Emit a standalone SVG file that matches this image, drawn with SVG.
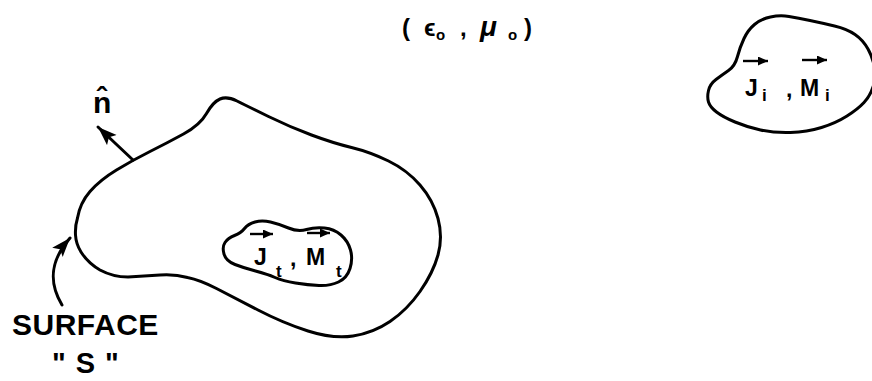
<svg xmlns="http://www.w3.org/2000/svg" width="872" height="381" viewBox="0 0 872 381">
  <style>
    .outline { fill: none; stroke: #000; stroke-width: 3; stroke-linejoin: round; stroke-linecap: round; }
    .shaft { fill: none; stroke: #000; stroke-width: 3; stroke-linecap: round; }
    .vec { fill: none; stroke: #000; stroke-width: 2.4; }
    .lbl { font-family: "Liberation Sans", "DejaVu Sans", sans-serif; fill: #000; }
    .b { font-weight: bold; }
  </style>
  <defs>
    <marker id="bigHead" markerUnits="userSpaceOnUse" markerWidth="24" markerHeight="16" refX="19" refY="7" orient="auto">
      <path d="M0,0 L19,7 L0,14 L4,7 Z" fill="#000"/>
    </marker>
    <marker id="vecHead" markerUnits="userSpaceOnUse" markerWidth="12" markerHeight="10" refX="10" refY="4.5" orient="auto">
      <path d="M0,0 L10,4.5 L0,9 Z" fill="#000"/>
    </marker>
  </defs>
  <rect width="872" height="381" fill="#fff"/>

  <g id="medium-label">
    <text class="lbl b" font-size="24" y="36"><tspan x="402">(</tspan><tspan x="424">ϵ</tspan><tspan x="436" y="40" font-size="15">o</tspan><tspan x="460" y="36">,</tspan><tspan x="480" font-style="italic" font-size="28">μ</tspan><tspan x="508" y="40" font-size="15">o</tspan><tspan x="524" y="36">)</tspan></text>
  </g>

  <g id="surface-S">
    <path class="outline" d="M 77.5,218 Q 80,203 90,191.5 Q 100,180 116.5,170 Q 133,160 150,151.5 Q 167,143 183.5,134 Q 200,125 206.5,113.5 Q 213,102 220,99 Q 227,96 237,101 Q 247,106 268.5,116.5 Q 290,127 311.5,135 Q 333,143 351.5,147.5 Q 370,152 388.5,161 Q 407,170 420,185 Q 433,200 438,218.5 Q 443,237 438,255 Q 433,273 420,291.5 Q 407,310 390,321.5 Q 373,333 353,336 Q 333,339 308,331 Q 283,323 258,310 Q 233,297 216.5,288.5 Q 200,280 187.5,277.5 Q 175,274 160,275 Q 145,276 128,277 Q 113,277 100,270 Q 88,263 81,252 Q 76,244 75.5,235 Q 75,226 77.5,218 Z"/>
  </g>

  <g id="region-t">
    <path class="outline" d="M 225,242.5 Q 228,238 234.5,235.5 Q 241,233 244.5,228.5 Q 248,224 255,222 Q 262,220 270.5,222 Q 279,224 288.5,228 Q 298,232 306.5,229.5 Q 315,227 324.5,228 Q 334,229 341,235 Q 348,241 350.5,250 Q 353,259 350,268.5 Q 347,278 338.5,282 Q 330,286 319,285.5 Q 308,285 295.5,283 Q 283,281 275,277.5 Q 267,274 255.5,271 Q 244,268 235,264.5 Q 226,261 224,254 Q 222,247 225,242.5 Z"/>
    <text class="lbl b" font-size="23" y="265"><tspan x="254">J</tspan><tspan x="276" y="277" font-size="17">t</tspan><tspan x="290" y="266">,</tspan><tspan x="306" y="265">M</tspan><tspan x="336" y="277" font-size="17">t</tspan></text>
    <line class="vec" x1="250" y1="234" x2="273" y2="234" marker-end="url(#vecHead)"/>
    <line class="vec" x1="307" y1="233" x2="330" y2="233" marker-end="url(#vecHead)"/>
  </g>

  <g id="region-i">
    <path class="outline" d="M 708.5,90.5 Q 710,84 716,79.5 Q 722,75 728.5,70.5 Q 735,66 737.5,56.5 Q 740,47 744,38.5 Q 748,30 754.5,24.5 Q 761,19 770.5,17 Q 780,15 789,16.5 Q 798,18 810,20.5 Q 822,23 834.5,26 Q 847,29 855,34.5 Q 863,40 868,49 Q 873,58 874.5,68 Q 876,78 873,87 Q 870,96 864,102.5 Q 858,109 847,116 Q 836,123 821.5,127.5 Q 807,132 790.5,132.5 Q 774,133 760.5,130 Q 747,127 735,122 Q 723,117 716.5,112 Q 710,107 708.5,102 Q 707,97 708.5,90.5 Z"/>
    <text class="lbl b" font-size="23" y="96"><tspan x="745">J</tspan><tspan x="762" y="101" font-size="17">i</tspan><tspan x="786" y="97">,</tspan><tspan x="800" y="96">M</tspan><tspan x="825" y="101" font-size="17">i</tspan></text>
    <line class="vec" x1="743" y1="61" x2="768" y2="61" marker-end="url(#vecHead)"/>
    <line class="vec" x1="802" y1="60" x2="827" y2="60" marker-end="url(#vecHead)"/>
  </g>

  <g id="connectors">
    <line id="normal-arrow" class="shaft" x1="133" y1="160" x2="98" y2="127" marker-end="url(#bigHead)"/>
    <path id="surface-pointer" class="shaft" d="M 62,305 C 50,285 48,263 70,238" marker-end="url(#bigHead)"/>
  </g>

  <g id="normal-label">
    <text class="lbl b" font-size="30" x="93" y="113">n̂</text>
  </g>

  <g id="surface-label">
    <text class="lbl b" font-size="30" x="12" y="335" letter-spacing="0.5">SURFACE</text>
    <text class="lbl b" font-size="29" x="52" y="373" letter-spacing="10">"S"</text>
  </g>
</svg>
